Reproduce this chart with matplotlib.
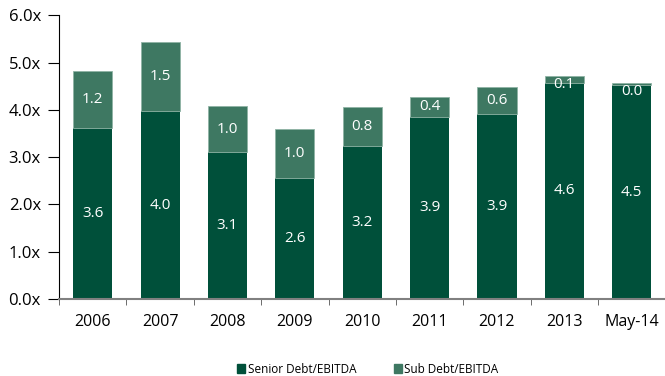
import numpy as np
import matplotlib
matplotlib.use("Agg")
import matplotlib.pyplot as plt
from matplotlib.patches import Patch

plt.rcParams['font.family'] = ['Open Sans', 'DejaVu Sans']

periods = ['2006', '2007', '2008', '2009', '2010', '2011', '2012', '2013', 'May-14']
senior = [3.62, 3.97, 3.11, 2.56, 3.23, 3.86, 3.91, 4.58, 4.52]
sub = [1.20, 1.46, 0.97, 1.04, 0.84, 0.41, 0.57, 0.13, 0.04]

SENIOR_C = '#00503a'
SUB_C = '#3e7862'

fig = plt.figure(figsize=(6.65, 3.76), dpi=100)
ax = fig.add_axes([0.0887, 0.205, 0.912, 0.754])

x = np.arange(len(periods))
w = 0.58
ax.bar(x, senior, w, color=SENIOR_C, edgecolor='none')
ax.bar(x, sub, w, bottom=senior, color=SUB_C, edgecolor='#8fb3a5', linewidth=0.6)

for xi, s, b in zip(x, senior, sub):
    ax.text(xi, s / 2, f'{s:.1f}', ha='center', va='center', color='white', fontsize=11)
    # thin segments: keep the label just under the bar top
    y_sub = min(s + b / 2, s + b - 0.17)
    ax.text(xi, y_sub, f'{b:.1f}', ha='center', va='center', color='white', fontsize=11)

ax.set_xlim(-0.5, len(periods) - 0.5)
ax.set_ylim(0, 6)
yt = np.arange(0, 6.1, 1.0)
ax.set_yticks(yt)
ax.set_yticklabels([f'{v:.1f}x' for v in yt], fontsize=12)
ax.set_xticks(x)
ax.set_xticklabels(periods, fontsize=11.5)
ax.set_xticks(np.arange(-0.5, len(periods)), minor=True)
ax.tick_params(axis='x', which='major', length=0, pad=11)
ax.tick_params(axis='x', which='minor', length=4, color='#555555', direction='out')
ax.tick_params(axis='y', length=8, direction='out', color='black', pad=5)

for sp in ['top', 'right']:
    ax.spines[sp].set_visible(False)
ax.spines['left'].set_color('black')
ax.spines['left'].set_linewidth(0.8)
ax.spines['bottom'].set_color('#808080')
ax.spines['bottom'].set_linewidth(1.5)

handles = [Patch(color=SENIOR_C, label='Senior Debt/EBITDA'),
           Patch(color=SUB_C, label='Sub Debt/EBITDA')]
fig.legend(handles=handles, loc='center', bbox_to_anchor=(0.553, 0.018), ncol=2,
           frameon=False, fontsize=8.5, handlelength=0.7, handleheight=0.7,
           handletextpad=0.2, columnspacing=3.2)

fig.savefig('out.png', dpi=100)
